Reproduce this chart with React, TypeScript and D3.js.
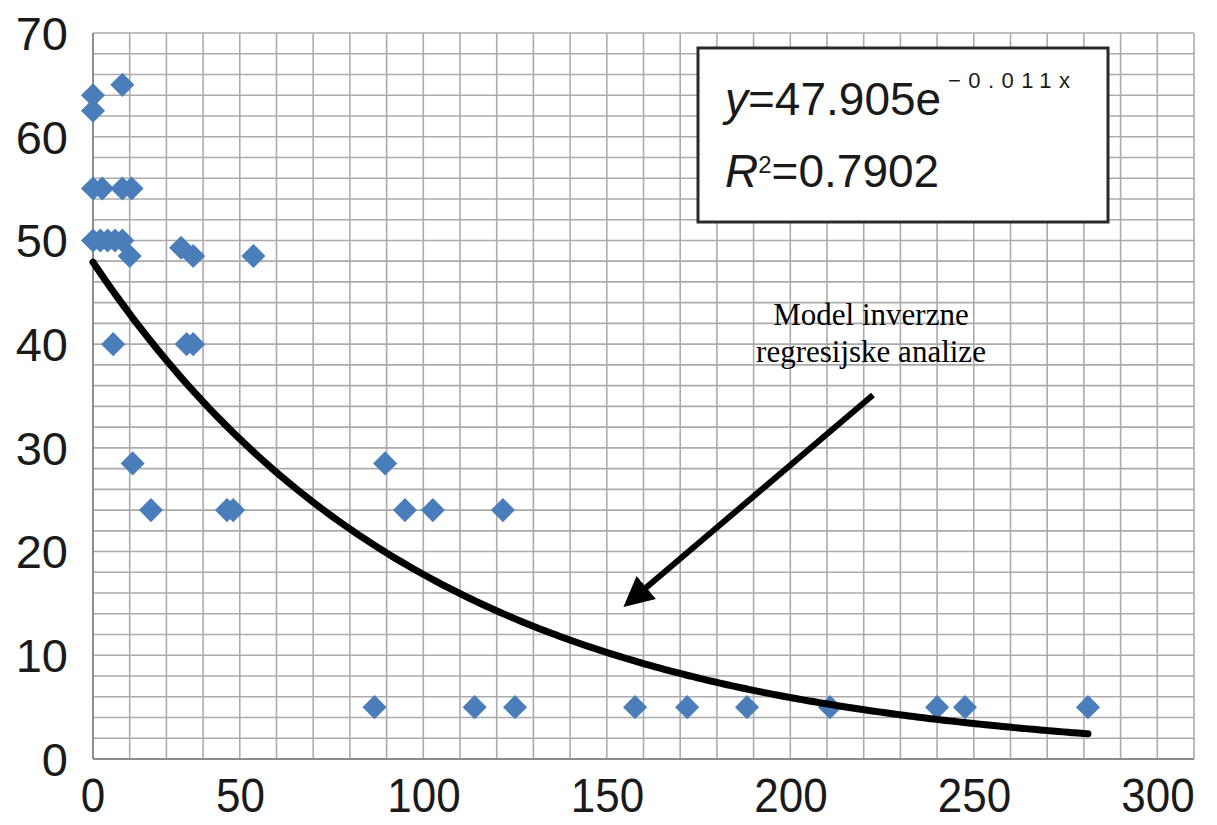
import React from "react";
import * as d3 from "d3";

// ---- data ----
const pointX = [
  0, 0, 8,
  0, 2.5, 8, 10.5,
  0, 2, 4, 6, 8,
  10, 24, 27.3, 43.7,
  5.5, 25.5, 27.3,
  10.8,
  15.8, 36.5, 38.2,
  79.6,
  85, 92.6, 111.7,
  76.7, 104, 115, 147.7, 161.9, 178.2, 200.8, 230, 237.6, 271.1,
];
const pointY = [
  64, 62.5, 65,
  55, 55, 55, 55,
  50, 50, 50, 50, 50,
  48.5, 49.3, 48.5, 48.5,
  40, 40, 40,
  28.5,
  24, 24, 24,
  28.5,
  24, 24, 24,
  5, 5, 5, 5, 5, 5, 5, 5, 5, 5,
];
const fitA = 47.905;
const fitB = -0.011;
const xTicks = [0, 50, 100, 150, 200, 250, 300];
const yTicks = [0, 10, 20, 30, 40, 50, 60, 70];
const annotationLines = ["Model inverzne", "regresijske analize"];

const W = 1217;
const H = 825;
const left = 93;
const right = 1194;
const top = 33;
const bottom = 759;

export default function App() {
  const x = d3.scaleLinear().domain([0, 300]).range([left, right]);
  const y = d3.scaleLinear().domain([0, 70]).range([bottom, top]);

  const vGrid = d3.range(0, 301, 10);
  const hGrid = d3.range(0, 71, 2);

  const xMax = d3.max(pointX) as number;
  const xMin = d3.min(pointX) as number;
  const fitPts: [number, number][] = d3
    .range(0, 201)
    .map((i) => xMin + ((xMax - xMin) * i) / 200)
    .map((v) => [v, fitA * Math.exp(fitB * v)]);
  const line = d3
    .line<[number, number]>()
    .x((d) => x(d[0]))
    .y((d) => y(d[1]))
    .curve(d3.curveMonotoneX);

  const diamond = d3.symbol().type(d3.symbolSquare).size(290)();
  const font = "'Liberation Sans', Arial, sans-serif";

  return (
    <svg
      width={W}
      height={H}
      style={{ position: "absolute", left: 0, top: 0, background: "#fff" }}
    >
      <defs>
        <marker
          id="arrowHead"
          viewBox="0 0 10 10"
          refX="8"
          refY="5"
          markerWidth="5"
          markerHeight="5"
          markerUnits="strokeWidth"
          orient="auto"
        >
          <path d="M0,0 L10,5 L0,10 z" fill="#000" />
        </marker>
      </defs>
      {/* grid */}
      <g stroke="#ababab" strokeWidth={1.6}>
        {hGrid.map((v) => (
          <line key={"h" + v} x1={left} x2={right} y1={y(v)} y2={y(v)} />
        ))}
        {vGrid.map((v) => (
          <line key={"v" + v} x1={x(v)} x2={x(v)} y1={top} y2={bottom} />
        ))}
      </g>
      <line x1={left} x2={left} y1={top} y2={bottom} stroke="#8c8c8c" strokeWidth={2} />
      <line x1={left} x2={right} y1={bottom} y2={bottom} stroke="#8c8c8c" strokeWidth={2} />

      {/* y labels */}
      {yTicks.map((v) => (
        <text
          key={"yt" + v}
          x={68}
          y={y(v)}
          dy="0.36em"
          textAnchor="end"
          fontFamily={font}
          fontSize={47}
          fill="#1a1a1a"
        >
          {v}
        </text>
      ))}
      {/* x labels */}
      {xTicks.map((v) => (
        <text
          key={"xt" + v}
          transform={`translate(${x(v) + (v === 0 ? 0 : -36)},${812}) scale(1,1.1)`}
          textAnchor="middle"
          fontFamily={font}
          fontSize={44}
          fill="#1a1a1a"
        >
          {v}
        </text>
      ))}

      {/* points */}
      <g fill="#4A7EBB">
        {pointX.map((v, i) => (
          <path
            key={"p" + i}
            d={diamond as string}
            transform={`translate(${x(v)},${y(pointY[i])}) rotate(45)`}
          />
        ))}
      </g>

      {/* trendline */}
      <path d={line(fitPts) as string} fill="none" stroke="#000" strokeWidth={7} strokeLinecap="round" />

      {/* equation box */}
      <rect x={698} y={48} width={410} height={174} fill="#fff" stroke="#2a2a2a" strokeWidth={3} />
      <text x={725} y={115} fontFamily={font} fontSize={46} fill="#1a1a1a">
        <tspan fontStyle="italic">y</tspan>
        <tspan>=47.905e</tspan>
      </text>
      <text
        x={948}
        y={88}
        fontFamily={font}
        fontSize={22}
        fill="#1a1a1a"
        textLength={122}
        lengthAdjust="spacing"
      >
        −0.011x
      </text>
      <text x={725} y={187} fontFamily={font} fontSize={46} fill="#1a1a1a">
        <tspan fontStyle="italic">R</tspan>
        <tspan fontSize={24} dy={-14}>2</tspan>
        <tspan dy={14}>=0.7902</tspan>
      </text>

      {/* annotation */}
      {annotationLines.map((t, i) => (
        <text
          key={"a" + i}
          x={871}
          y={325 + i * 37}
          textAnchor="middle"
          fontFamily="'Liberation Serif', 'Times New Roman', serif"
          fontSize={31}
          fill="#000"
        >
          {t}
        </text>
      ))}
      <line
        x1={873}
        y1={395}
        x2={628}
        y2={603}
        stroke="#000"
        strokeWidth={6}
        markerEnd="url(#arrowHead)"
      />
    </svg>
  );
}
